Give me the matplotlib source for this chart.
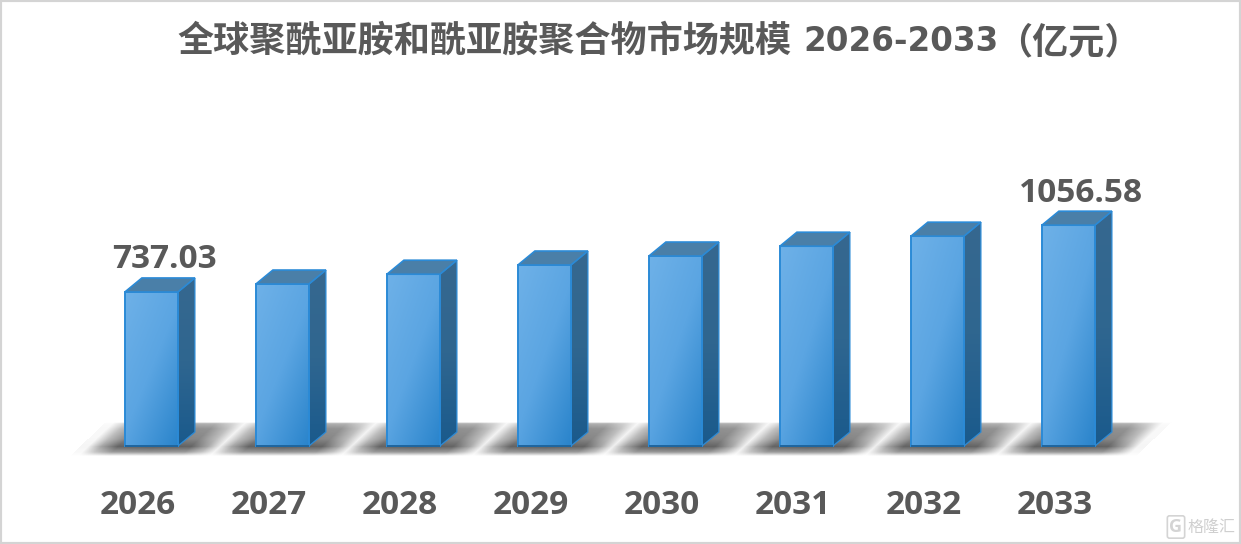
import numpy as np
import matplotlib
matplotlib.use("Agg")
import matplotlib.pyplot as plt
from matplotlib.patches import Polygon, Rectangle
from matplotlib.colors import LinearSegmentedColormap

title_head = "全球聚酰亚胺和酰亚胺聚合物市场规模"
title_years = "2026-2033"
title_unit = "（亿元）"
years = ["2026", "2027", "2028", "2029", "2030", "2031", "2032", "2033"]
values = [737.03, 775, 822, 866, 909, 956, 1004, 1056.58]
labelled = {0: "737.03", 7: "1056.58"}

W, H = 1241, 544
BASE_PX, UNIT_PX, X0_PX, STEP_PX = 446, 4.785, 151.4, 131
plt.rcParams['font.family'] = ['Open Sans', 'Noto Sans CJK SC', 'DejaVu Sans']
TXT = "#595959"

fig = plt.figure(figsize=(W / 100, H / 100), dpi=100, facecolor="white")
ax = fig.add_axes([0, 0, 1, 1])
xlim = ((0 - X0_PX) / STEP_PX, (W - X0_PX) / STEP_PX)
ylim = ((BASE_PX - H) * UNIT_PX, BASE_PX * UNIT_PX)
ax.set_axis_off()

def px_x(dpx):
    return dpx / STEP_PX
def px_y(dpx):
    return dpx * UNIT_PX
def at_x(p):
    return (p - X0_PX) / STEP_PX
def at_y(p):
    return (BASE_PX - p) * UNIT_PX

# ground shadow
xx, yy = np.meshgrid(np.arange(W) + .5, np.arange(H) + .5)
u = xx - (456 - yy) * 1.06
v = (yy - 422) / 34
vp = np.interp(v, [0, .05, .2, .5, .72, .88, 1], [0, .5, .7, .78, 1, .65, 0])
alpha = np.zeros_like(xx)
for i in range(len(values)):
    c = 144.5 + i * STEP_PX
    d = np.abs(u - c) / 66.5
    alpha = np.maximum(alpha, np.interp(d, [0, .55, .8, 1], [1, .95, .55, .06]))
alpha = alpha * vp * 0.85
alpha[(u < 70) | (u > 78 + 7 * STEP_PX + 141)] = 0
rgba = np.zeros((H, W, 4))
rgba[..., :3] = 0.25
rgba[..., 3] = alpha
ax.imshow(rgba, extent=(*xlim, *ylim), origin="upper", aspect="auto", zorder=1, interpolation="bilinear")

front = LinearSegmentedColormap.from_list("f", ["#6eb1e8", "#5ba5e2", "#2a84cb"])
side = LinearSegmentedColormap.from_list("s", ["#36688f", "#2f6690", "#1a5a8c"])
gx, gy = np.meshgrid(np.linspace(0, 1, 64), np.linspace(0, 1, 200))
gfront = gx * 0.45 + gy * 0.55
gside = gy

half = px_x(26.5)
dx, dy = px_x(17), px_y(14)
EDGE = "#2b8ad6"
for i, val in enumerate(values):
    l, r = i - half, i + half
    ax.imshow(gfront, extent=(l, r, 0, val), cmap=front, aspect="auto", zorder=3, origin="upper")
    ax.add_patch(Polygon([(l, 0), (r, 0), (r, val), (l, val)], closed=True, fc="none", ec=EDGE, lw=1.4, zorder=4))
    im2 = ax.imshow(gside, extent=(r, r + dx, 0, val + dy), cmap=side, aspect="auto", zorder=3, origin="upper")
    sp = Polygon([(r, 0), (r + dx, dy), (r + dx, val + dy), (r, val)], closed=True, fc="none", ec=EDGE, lw=0.9, zorder=4)
    ax.add_patch(sp)
    im2.set_clip_path(sp)
    ax.add_patch(Polygon([(l, val), (r, val), (r + dx, val + dy), (l + dx, val + dy)], closed=True,
                         fc="#4a7fa8", ec=EDGE, lw=1.2, zorder=4))
    ax.plot([l, r], [0, 0], color="#1d5f94", lw=1.2, zorder=5, solid_capstyle="butt")
    ax.text(i - px_x(14), at_y(505.5), years[i], ha="center", va="center",
            fontsize=24, fontweight="bold", color=TXT, zorder=6)
    if i in labelled:
        ax.text(i + px_x(13), val + px_y(32), labelled[i], ha="center", va="center",
                fontsize=24, fontweight="bold", color=TXT, zorder=6)

TY = at_y(43)
ax.text(at_x(177), TY, title_head, ha="left", va="center", fontsize=26, fontweight="bold", color=TXT, zorder=6)
ax.text(at_x(900.5), TY + px_y(1), title_years, ha="center", va="center", fontsize=23.5, fontweight="bold",
        color=TXT, family=['DejaVu Sans'], zorder=6)
ax.text(at_x(1068), TY, title_unit, ha="center", va="center", fontsize=26, fontweight="bold", color=TXT,
        family=['Noto Sans CJK SC'], zorder=6)

# watermark and frame
ax.text(at_x(1212), at_y(527), "格隆汇", ha="center", va="center",
        fontsize=11.5, color="#cfcfcf", family=['Noto Sans CJK SC'], zorder=6)
ax.text(at_x(1176), at_y(527), "G", ha="center", va="center",
        fontsize=13, fontweight="bold", color="#d4d4d4", zorder=6,
        bbox=dict(boxstyle="round,pad=0.12", fc="white", ec="#d4d4d4", lw=1.2))
ax.set_xlim(*xlim)
ax.set_ylim(*ylim)
fig.add_artist(Rectangle((0, 0), 1, 1, transform=fig.transFigure, fc="none", ec="#d4d4d4", lw=3))
fig.savefig("out.png", dpi=100)
